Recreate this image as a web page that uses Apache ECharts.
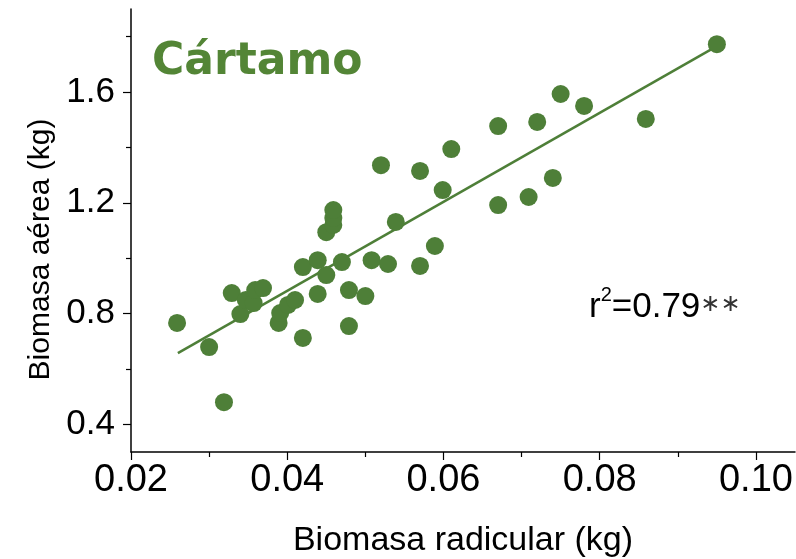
<!DOCTYPE html>
<html>
<head>
<meta charset="utf-8">
<script src="https://cdn.jsdelivr.net/npm/echarts@6/dist/echarts.min.js"></script>
<style>
  html, body { margin: 0; padding: 0; background: #fff; }
  #main { width: 796px; height: 559px; }
</style>
</head>
<body>
<div id="main"></div>
<script>
// raiz vs parte aerea (kg)
const raiz = [
    0.0259, 0.0300, 0.0319, 0.0329, 0.0340, 0.0347, 0.0357, 0.0359, 0.0369,
    0.0389, 0.0391, 0.0401, 0.0410, 0.0420, 0.0420, 0.0439, 0.0439, 0.0450,
    0.0450, 0.0459, 0.0459, 0.0459, 0.0470, 0.0479, 0.0479, 0.0500, 0.0508,
    0.0520, 0.0529, 0.0539, 0.0570, 0.0570, 0.0589, 0.0599, 0.0610, 0.0670,
    0.0670, 0.0709, 0.0720, 0.0740, 0.0750, 0.0780, 0.0859, 0.0950
];
const aerea = [
    0.766, 0.679, 0.480, 0.874, 0.798, 0.849, 0.838, 0.885, 0.892,
    0.766, 0.802, 0.831, 0.849, 0.968, 0.712, 0.993, 0.871, 0.939,
    1.094, 1.120, 1.145, 1.174, 0.986, 0.885, 0.755, 0.863, 0.993,
    1.336, 0.979, 1.131, 1.315, 0.972, 1.044, 1.246, 1.394, 1.477,
    1.192, 1.221, 1.492, 1.290, 1.593, 1.550, 1.503, 1.773
];
// recta de regresion
const ajusteX = [0.026, 0.095];
const ajusteY = [0.657, 1.766];

const xMayor = [0.02, 0.04, 0.06, 0.08, 0.10];
const xMenor = [0.03, 0.05, 0.07, 0.09];
const yMayor = [0.4, 0.8, 1.2, 1.6];
const yMenor = [0.6, 1.0, 1.4, 1.8];

const verde = '#4e7f38';
const fuente = '"Liberation Sans", Arial, sans-serif';

const puntos = raiz.map((x, i) => [x, aerea[i]]);
const recta = ajusteX.map((x, i) => [x, ajusteY[i]]);

var myChart = echarts.init(document.getElementById('main'));
var option = {
    animation: false,
    grid: { left: 131, top: 9, right: 1, bottom: 107, containLabel: false, outerBoundsMode: 'none' },
    xAxis: [
        {
            type: 'value', min: 0.02, max: 0.105,
            name: 'Biomasa radicular (kg)', nameLocation: 'middle', nameGap: 72,
            nameTextStyle: { fontFamily: fuente, fontSize: 34, color: '#000' },
            axisLine: { show: true, lineStyle: { color: '#000', width: 1.5 } },
            axisTick: { show: true, length: 8, lineStyle: { color: '#000', width: 1.2 }, customValues: xMayor },
            axisLabel: { fontFamily: fuente, fontSize: 38, color: '#000', margin: 10, customValues: xMayor,
                formatter: (v) => v.toFixed(2) },
            splitLine: { show: false }
        },
        {
            // ticks menores
            type: 'value', min: 0.02, max: 0.105, position: 'bottom',
            axisLine: { show: false },
            axisTick: { show: true, length: 5, lineStyle: { color: '#000', width: 1.2 }, customValues: xMenor },
            axisLabel: { show: false },
            splitLine: { show: false }
        }
    ],
    yAxis: [
        {
            type: 'value', min: 0.3, max: 1.9,
            name: 'Biomasa aérea (kg)', nameLocation: 'middle', nameGap: 72, nameRotate: 90,
            nameTextStyle: { fontFamily: fuente, fontSize: 30, color: '#000', padding: [0, 38, 0, 0] },
            axisLine: { show: true, lineStyle: { color: '#000', width: 1.5 } },
            axisTick: { show: true, length: 8, lineStyle: { color: '#000', width: 1.2 }, customValues: yMayor },
            axisLabel: { fontFamily: fuente, fontSize: 35, color: '#000', margin: 16, customValues: yMayor,
                formatter: (v) => v.toFixed(1) },
            splitLine: { show: false }
        },
        {
            type: 'value', min: 0.3, max: 1.9, position: 'left',
            axisLine: { show: false },
            axisTick: { show: true, length: 5, lineStyle: { color: '#000', width: 1.2 }, customValues: yMenor },
            axisLabel: { show: false },
            splitLine: { show: false }
        }
    ],
    series: [
        {
            type: 'line', data: recta, showSymbol: false, symbol: 'none',
            lineStyle: { color: verde, width: 2.5 }, z: 1
        },
        {
            type: 'scatter', data: puntos, symbol: 'circle', symbolSize: 18,
            itemStyle: { color: verde, opacity: 1 }, z: 2
        }
    ],
    graphic: [
        {
            type: 'text', left: 152, top: 41,
            style: { text: 'Cártamo', fill: '#538536', font: 'bold 44px "DejaVu Sans", sans-serif' }
        },
        {
            type: 'text', left: 589, top: 285,
            style: {
                text: '{r|r}{s|2}{r|=0.79}{a|∗∗}',
                rich: {
                    r: { fontFamily: fuente, fontSize: 35, fill: '#000', verticalAlign: 'bottom', lineHeight: 40 },
                    s: { fontFamily: fuente, fontSize: 20, fill: '#000', verticalAlign: 'top', lineHeight: 24 },
                    a: { fontFamily: '"DejaVu Sans", sans-serif', fontSize: 24, fill: '#333', verticalAlign: 'middle', lineHeight: 40 }
                }
            }
        }
    ]
};
myChart.setOption(option);
</script>
</body>
</html>
